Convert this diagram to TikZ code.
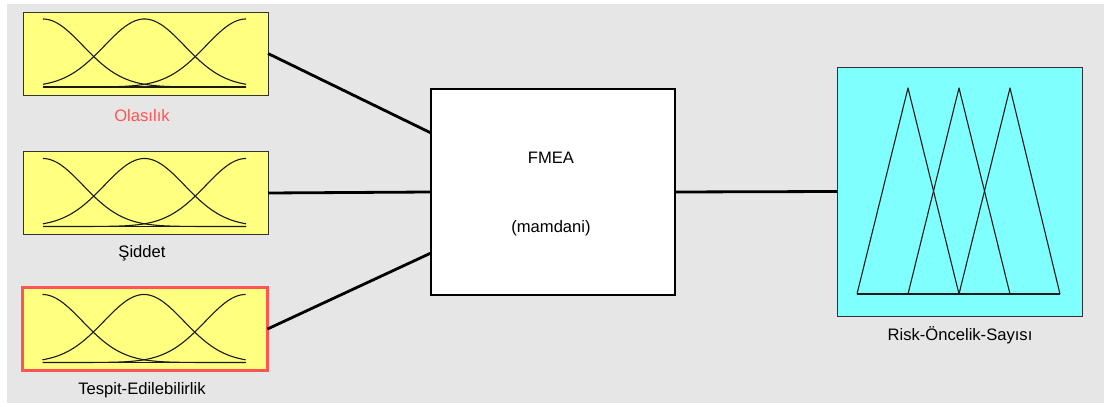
\documentclass[tikz,border=0pt]{standalone}
\usepackage{fontspec}
\setmainfont{Liberation Sans}

\definecolor{panel}{HTML}{E6E6E6}
\definecolor{mfyellow}{HTML}{FFFF80}
\definecolor{mfcyan}{HTML}{80FFFF}
\definecolor{selred}{HTML}{FF5555}
\definecolor{frame}{HTML}{333333}
\definecolor{curve}{HTML}{1A1A1A}

\tikzset{
  inbox/.style={draw=frame, fill=mfyellow, line width=0.9pt,
    minimum width=245pt, minimum height=83pt, inner sep=0pt, outer sep=0pt},
  fisbox/.style={draw=black, fill=white, line width=2.6pt,
    minimum width=244pt, minimum height=206pt, inner sep=0pt, outer sep=0pt},
  outbox/.style={draw=frame, fill=mfcyan, line width=0.9pt,
    minimum width=245pt, minimum height=249pt, inner sep=0pt, outer sep=0pt},
  lbl/.style={inner sep=0pt, font=\fontsize{16.6}{19}\selectfont},
  wire/.style={draw=black, line width=2.8pt},
  mfline/.style={draw=curve, line width=1.1pt, line join=round},
}

% three Gaussian membership functions inside an input box
\newcommand\gaussset[1]{%
  \begin{scope}[shift={(#1.north west)}]
    \foreach \c in {20,121.5,223}{
      \draw[mfline] plot[domain=20:223, samples=90, smooth]
        (\x, {75-68*exp(-0.5*((\x-\c)/40)^2)});
    }
    \draw[mfline] (20,75) -- (223,75);
  \end{scope}}

\begin{document}
\begin{tikzpicture}[x=1pt,y=-1pt]
  \useasboundingbox (0,0) rectangle (1104,403);
  \fill[white] (0,0) rectangle (1104,403);
  \fill[panel] (7,4) rectangle (1104,403);

  % input variables
  \node[inbox] (olasilik) at (145.5,53.5) {};
  \gaussset{olasilik}
  \node[lbl, text=selred] (lolasilik) at (142,116) {Olasılık};

  \node[inbox] (siddet) at (145.5,193) {};
  \gaussset{siddet}
  \node[lbl] (lsiddet) at (142,253) {Şiddet};

  \node[inbox, draw=selred, line width=3.6pt] (tespit) at (145,329) {};
  \gaussset{tespit}
  \node[lbl] (ltespit) at (142,390) {Tespit-Edilebilirlik};

  % inference system
  \node[fisbox] (fis) at (553,192) {};
  \node[lbl] (fmea) at (551,158) {FMEA};
  \node[lbl] (fistype) at (551,228) {(mamdani)};

  % output variable with triangular membership functions
  \node[outbox] (rps) at (959.5,191.5) {};
  \begin{scope}[shift={(rps.north west)}]
    \draw[mfline] (20,227) -- (71,21) -- (122,227);
    \draw[mfline] (71,227) -- (122,21) -- (173,227);
    \draw[mfline] (122,227) -- (173,21) -- (223,227);
    \draw[mfline] (20,227) -- (223,227);
  \end{scope}
  \node[lbl] (lrps) at (960,335) {Risk-Öncelik-Sayısı};

  % connections
  \draw[wire] (olasilik.east) -- ([yshift=59pt]fis.west);
  \draw[wire] (siddet.east) -- (fis.west);
  \draw[wire] (tespit.east) -- ([yshift=-61pt]fis.west);
  \draw[wire] (fis.east) -- (rps.west);
\end{tikzpicture}
\end{document}
